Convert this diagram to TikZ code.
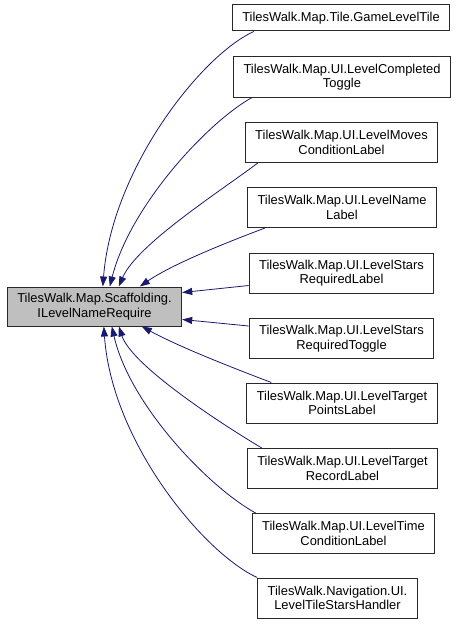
\documentclass[tikz,border=0pt]{standalone}
\usepackage{fontspec}
\setmainfont{Liberation Sans}
\usepackage{tikz}
\usetikzlibrary{arrows.meta}
\definecolor{edgeblue}{RGB}{25,25,112}
\definecolor{basegray}{RGB}{191,191,191}
\definecolor{boxline}{RGB}{40,40,40}

\begin{document}
\begin{tikzpicture}[x=1pt,y=-1pt,
    cls/.style={draw=boxline,line width=1pt,fill=white,align=center,inner xsep=10pt,inner ysep=0pt,
      minimum height=40pt,font=\fontsize{12.9}{14.5}\selectfont},
    iface/.style={cls,fill=basegray,minimum height=39pt},
    edge/.style={->,edgeblue,line width=0.8pt},
    >={Triangle[length=10pt,width=7pt]}]
        \useasboundingbox (0,0) rectangle (457,626);
        \node[iface] (base) at (94.5,306.5) {TilesWalk.Map.Scaffolding.\\ILevelNameRequire};
        \node[cls,minimum height=26pt] (t1) at (341,18) {TilesWalk.Map.Tile.GameLevelTile};
        \node[cls] (t2) at (342,77) {TilesWalk.Map.UI.LevelCompleted\\Toggle};
        \node[cls] (t3) at (341.5,142.5) {TilesWalk.Map.UI.LevelMoves\\ConditionLabel};
        \node[cls] (t4) at (342,207.5) {TilesWalk.Map.UI.LevelName\\Label};
        \node[cls] (t5) at (341.5,273) {TilesWalk.Map.UI.LevelStars\\RequiredLabel};
        \node[cls] (t6) at (341.5,338.5) {TilesWalk.Map.UI.LevelStars\\RequiredToggle};
        \node[cls] (t7) at (342,403) {TilesWalk.Map.UI.LevelTarget\\PointsLabel};
        \node[cls] (t8) at (342.5,468.5) {TilesWalk.Map.UI.LevelTarget\\RecordLabel};
        \node[cls] (t9) at (343.5,533.5) {TilesWalk.Map.UI.LevelTime\\ConditionLabel};
        \node[cls] (t10) at (337.5,598) {TilesWalk.Navigation.UI.\\LevelTileStarsHandler};
        \draw[edge] ([xshift=22]t1.south west) .. controls +(-53,24) and +(9,-117) .. ([xshift=96]base.north west);
        \draw[edge] ([xshift=19]t2.south west) .. controls +(-45,25) and +(20,-80) .. ([xshift=103]base.north west);
        \draw[edge] ([xshift=13]t3.south west) .. controls +(-37,28) and +(18,-42) .. ([xshift=112]base.north west);
        \draw[edge] ([xshift=18]t4.south west) .. controls +(-40,15) and +(32,-22) .. ([xshift=133]base.north west);
        \draw[edge] ([yshift=8]t5.south west) -- ([yshift=-6]base.north east);
        \draw[edge] ([yshift=-8]t6.north west) -- ([yshift=7]base.south east);
        \draw[edge] ([xshift=25]t7.north west) .. controls +(-50,-19) and +(35,19) .. ([xshift=135]base.south west);
        \draw[edge] ([xshift=15]t8.north west) .. controls +(-42,-25) and +(13,39) .. ([xshift=112]base.south west);
        \draw[edge] ([xshift=4]t9.north west) .. controls +(-46,-25) and +(18,79) .. ([xshift=105]base.south west);
        \draw[edge] (t10.north west) .. controls +(-53,-24) and +(8,116) .. ([xshift=97]base.south west);
      \end{tikzpicture}
\end{document}
